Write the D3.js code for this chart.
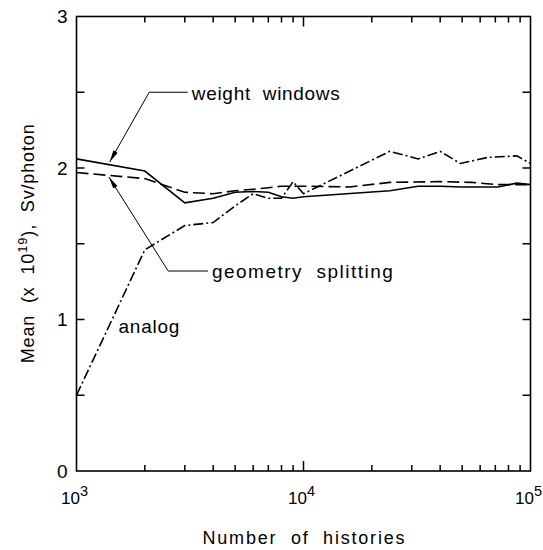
<!DOCTYPE html>
<html>
<head>
<meta charset="utf-8">
<script src="https://cdn.jsdelivr.net/npm/d3@7"></script>
<style>
  body { margin: 0; background: #fff; }
  svg { display: block; font-family: "Liberation Sans", Arial, sans-serif; }
</style>
</head>
<body>
<svg width="543" height="550"></svg>
<script>
'use strict';

// number of histories and mean values
const windowsN   = [1000, 2000, 3000, 4000, 5000, 6000, 7000, 8000, 9000, 10000, 24000, 32000, 40000, 50000, 72000, 87000, 100000];
const windowsVal = [2.06, 1.98, 1.77, 1.80, 1.84, 1.845, 1.84, 1.81, 1.80, 1.81, 1.85, 1.88, 1.88, 1.875, 1.875, 1.90, 1.89];

const splitN   = [1000, 2000, 3000, 4000, 5000, 6000, 7000, 8000, 10000, 16000, 24000, 40000, 55000, 72000, 100000];
const splitVal = [1.97, 1.93, 1.84, 1.83, 1.85, 1.86, 1.87, 1.88, 1.88, 1.875, 1.905, 1.91, 1.905, 1.89, 1.89];

const analogN   = [1000, 2000, 3000, 4000, 5000, 6000, 7000, 8000, 9000, 10000, 24000, 32000, 40000, 49000, 65000, 87000, 100000];
const analogVal = [0.50, 1.46, 1.62, 1.64, 1.75, 1.83, 1.80, 1.80, 1.91, 1.83, 2.11, 2.06, 2.11, 2.03, 2.07, 2.08, 2.03];

const xTickExps = [3, 4, 5];
const yTickLabels = [0, 1, 2, 3];

// label anchors in data units: [N, value]
const wwLabel  = {text: "weight  windows",    at: [3220, 2.45], kink: [2090, 2.50], tip: [1400, 2.04], len: 148};
const gsLabel  = {text: "geometry  splitting", at: [3950, 1.275], kink: [2535, 1.32], tip: [1390, 1.94], len: 181};
const anLabel  = {text: "analog", at: [1530, 0.91], len: 61};

let margin = {top: 16.5, right: 12.5, bottom: 79, left: 76.5};
let width = 543, height = 550;

let svg = d3.select("svg");

let x = d3.scaleLog()
  .domain([1e3, 1e5])
  .range([margin.left, width - margin.right]);

let y = d3.scaleLinear()
  .domain([0, 3])
  .range([height - margin.bottom, margin.top]);

let g = svg.append("g");

// ticks, all pointing inward
let minor = [];
for (let e = 3; e < 5; e++) for (let k = 2; k <= 9; k++) minor.push(k * Math.pow(10, e));

function xTicks(y0, dir) {
  g.append("g").selectAll("line")
    .data(minor)
    .join("line")
      .attr("x1", d => x(d)).attr("x2", d => x(d))
      .attr("y1", y0).attr("y2", y0 + dir * 6)
      .attr("stroke", "#000").attr("stroke-width", 1.5);
  g.append("g").selectAll("line")
    .data([1e4])
    .join("line")
      .attr("x1", d => x(d)).attr("x2", d => x(d))
      .attr("y1", y0).attr("y2", y0 + dir * 10)
      .attr("stroke", "#000").attr("stroke-width", 1.5);
}
xTicks(y(0), -1);
xTicks(y(3), 1);

let yt = d3.range(0.5, 3, 0.5);
function yTicks(x0, dir) {
  g.append("g").selectAll("line")
    .data(yt)
    .join("line")
      .attr("x1", x0).attr("x2", x0 + dir * 8)
      .attr("y1", d => y(d)).attr("y2", d => y(d))
      .attr("stroke", "#000").attr("stroke-width", 1.5);
}
yTicks(x(1e3), 1);
yTicks(x(1e5), -1);

g.append("rect")
  .attr("x", x(1e3)).attr("y", y(3))
  .attr("width", x(1e5) - x(1e3)).attr("height", y(0) - y(3))
  .attr("fill", "none").attr("stroke", "#000").attr("stroke-width", 1.6);

// tick labels
g.append("g").selectAll("text")
  .data(yTickLabels)
  .join("text")
    .attr("x", x(1e3) - 9)
    .attr("y", d => y(d))
    .attr("dy", "0.36em")
    .attr("text-anchor", "end")
    .attr("font-size", 19)
    .text(d => d);

// the "10" of each label starts a little left of its tick
let xl = g.append("g").selectAll("text")
  .data(xTickExps)
  .join("text")
    .attr("x", d => x(Math.pow(10, d)) - 15.5)
    .attr("y", 504)
    .attr("font-size", 17);
xl.append("tspan").text("10");
xl.append("tspan").attr("dy", -8).attr("font-size", 14.5).text(d => d);

// axis titles
g.append("text")
  .attr("x", (x(1e3) + x(1e5)) / 2)
  .attr("y", 544)
  .attr("text-anchor", "middle")
  .attr("font-size", 18)
  .attr("textLength", 202)
  .attr("lengthAdjust", "spacing")
  .style("white-space", "pre")
  .text("Number  of  histories");

let yTitle = g.append("text")
  .attr("transform", "translate(34," + ((y(0) + y(3)) / 2) + ") rotate(-90)")
  .attr("text-anchor", "middle")
  .attr("font-size", 18)
  .attr("textLength", 239)
  .attr("lengthAdjust", "spacing")
  .style("white-space", "pre");
yTitle.append("tspan").text("Mean  (x  10");
yTitle.append("tspan").attr("dy", -7).attr("font-size", 13).text("19");
yTitle.append("tspan").attr("dy", 7).text("),  Sv/photon");

// curves
let line = d3.line()
  .x(d => x(d[0]))
  .y(d => y(d[1]));

let series = [
  {n: windowsN, v: windowsVal, dash: null},
  {n: splitN,   v: splitVal,   dash: "12,5"},
  {n: analogN,  v: analogVal,  dash: "10,3,2,3"}
];

g.append("g").selectAll("path")
  .data(series)
  .join("path")
    .attr("d", s => line(d3.zip(s.n, s.v)))
    .attr("fill", "none")
    .attr("stroke", "#000")
    .attr("stroke-width", 1.6)
    .attr("stroke-dasharray", s => s.dash);

// labels with leader lines and arrow heads
svg.append("defs").append("marker")
  .attr("id", "arr")
  .attr("viewBox", "0 0 12 6")
  .attr("refX", 12).attr("refY", 3)
  .attr("markerWidth", 12).attr("markerHeight", 6)
  .attr("markerUnits", "userSpaceOnUse")
  .attr("orient", "auto")
  .append("path")
    .attr("d", "M0,0.5L12,3L0,5.5Z")
    .attr("fill", "#000");

[wwLabel, gsLabel].forEach(l => {
  let tx = x(l.at[0]), ty = y(l.at[1]);
  let ky = y(l.kink[1]);
  g.append("path")
    .attr("d", `M${tx - 4},${ky}L${x(l.kink[0])},${ky}L${x(l.tip[0])},${y(l.tip[1])}`)
    .attr("fill", "none")
    .attr("stroke", "#000")
    .attr("stroke-width", 1)
    .attr("marker-end", "url(#arr)");
  g.append("text")
    .attr("x", tx).attr("y", ty)
    .attr("font-size", 19)
    .attr("textLength", l.len)
    .attr("lengthAdjust", "spacing")
    .style("white-space", "pre")
    .text(l.text);
});

g.append("text")
  .attr("x", x(anLabel.at[0])).attr("y", y(anLabel.at[1]))
  .attr("font-size", 19)
  .attr("textLength", anLabel.len)
  .attr("lengthAdjust", "spacing")
  .text(anLabel.text);
</script>
</body>
</html>
